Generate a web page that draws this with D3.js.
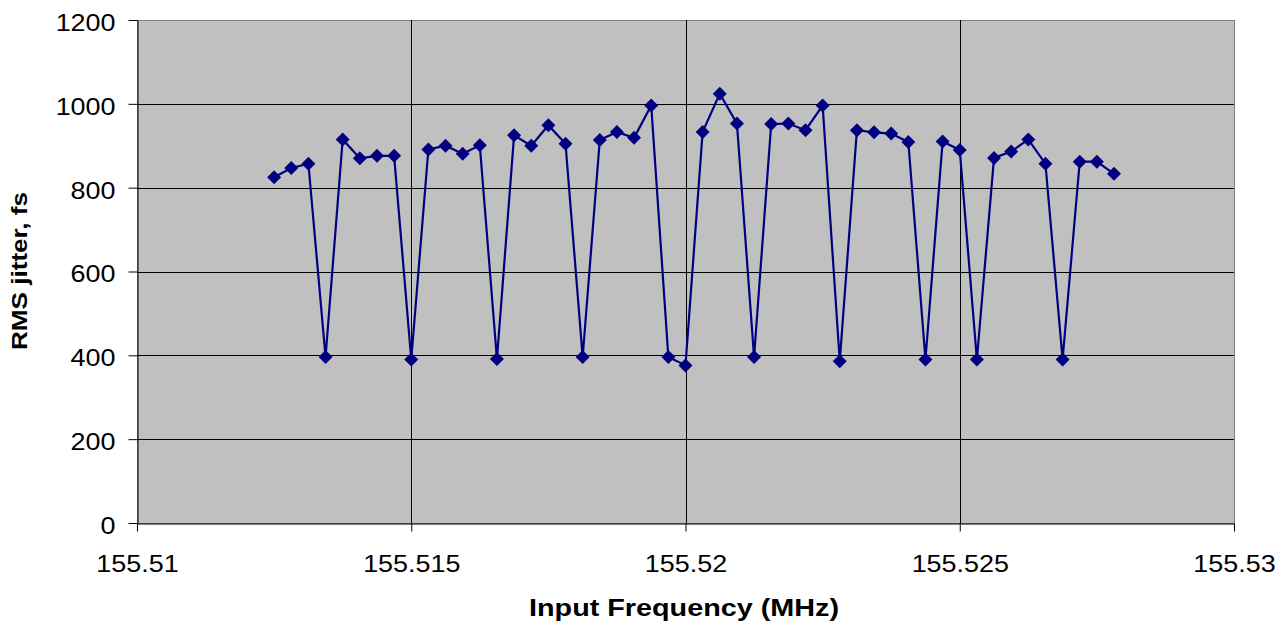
<!DOCTYPE html>
<html><head><meta charset="utf-8">
<script src="https://cdn.jsdelivr.net/npm/d3@7"></script>
<style>body{margin:0;background:#fff}svg{display:block}text{font-family:Arial,"Liberation Sans",sans-serif}</style>
</head><body><svg id="c" width="1281" height="622"></svg>
<script>
const freqs = [155.5125,155.5128125,155.513125,155.5134375,155.51375,155.5140625,155.514375,155.5146875,155.515,155.5153125,
155.515625,155.5159375,155.51625,155.5165625,155.516875,155.5171875,155.5175,155.5178125,155.518125,155.5184375,
155.51875,155.5190625,155.519375,155.5196875,155.52,155.5203125,155.520625,155.5209375,155.52125,155.5215625,
155.521875,155.5221875,155.5225,155.5228125,155.523125,155.5234375,155.52375,155.5240625,155.524375,155.5246875,
155.525,155.5253125,155.525625,155.5259375,155.52625,155.5265625,155.526875,155.5271875,155.5275,155.5278125];
const jitter = [825,847,857,396,915,870,876,876,390,891,
900,881,901,391,925,900,949,905,396,914,
933,919,996,396,376,933,1024,953,396,952,
953,937,996,386,937,932,929,909,390,910,
890,390,871,886,915,857,390,862,862,833];
const xTicks = [155.51,155.515,155.52,155.525,155.53];
const xTickLabels = ["155.51","155.515","155.52","155.525","155.53"];
const yTicks = [0,200,400,600,800,1000,1200];
const yTickLabels = ["0","200","400","600","800","1000","1200"];

const L=137,R=1234,T=20,B=523;
const STRETCH=1.17;
const svg=d3.select("#c");
const x=d3.scaleLinear().domain([155.51,155.53]).range([L,R]);
const y=d3.scaleLinear().domain([0,1200]).range([B,T]);

svg.append("rect").attr("x",L+0.5).attr("y",T+0.5).attr("width",R-L).attr("height",B-T)
  .attr("fill","#c0c0c0").attr("stroke","#808080").attr("stroke-width",1);

const g=svg.append("g");
g.selectAll("line.hg").data(yTicks.slice(1,-1)).join("line").attr("class","hg")
  .attr("x1",L).attr("x2",R).attr("y1",d=>Math.round(y(d))+0.5).attr("y2",d=>Math.round(y(d))+0.5)
  .attr("stroke","#000").attr("stroke-width",1);
g.selectAll("line.vg").data(xTicks.slice(1,-1)).join("line").attr("class","vg")
  .attr("y1",T).attr("y2",B).attr("x1",d=>Math.round(x(d))+0.5).attr("x2",d=>Math.round(x(d))+0.5)
  .attr("stroke","#000").attr("stroke-width",1);

const yAxis=svg.append("g").attr("transform",`translate(${L+0.5},0)`)
  .call(d3.axisLeft(y).tickValues(yTicks).tickFormat((d,i)=>yTickLabels[i]).tickSize(9).tickSizeOuter(0).tickPadding(13));
const xAxis=svg.append("g").attr("transform",`translate(0,${B+0.5})`)
  .call(d3.axisBottom(x).tickValues(xTicks).tickFormat((d,i)=>xTickLabels[i]).tickSize(8).tickSizeOuter(0).tickPadding(24));
[yAxis,xAxis].forEach(a=>{
  a.selectAll("path").attr("stroke","#000");
  a.selectAll("line").attr("stroke","#000");
  a.selectAll("text").attr("font-size",23).attr("fill","#000")
    .attr("font-family","Arial, 'Liberation Sans', sans-serif")
    .each(function(){const w=this.getComputedTextLength();
      d3.select(this).attr("textLength",w*STRETCH).attr("lengthAdjust","spacingAndGlyphs");});
});
yAxis.selectAll("text").attr("dy","0.45em");

const line=d3.line().x((d,i)=>x(freqs[i])).y(d=>y(d));
svg.append("path").datum(jitter).attr("d",line).attr("fill","none").attr("stroke","#000080").attr("stroke-width",2.2);
const squareDiamond={draw(ctx,size){const r=Math.sqrt(size/2);ctx.moveTo(0,-r);ctx.lineTo(r,0);ctx.lineTo(0,r);ctx.lineTo(-r,0);ctx.closePath();}};
const sym=d3.symbol().type(squareDiamond).size(98);
svg.selectAll("path.m").data(jitter).join("path").attr("class","m")
  .attr("transform",(d,i)=>`translate(${x(freqs[i])},${y(d)})`)
  .attr("d",sym).attr("fill","#000080");

svg.append("text").attr("x",684).attr("y",616).attr("text-anchor","middle")
  .attr("font-size",23).attr("font-weight","bold").attr("textLength",310).attr("lengthAdjust","spacingAndGlyphs")
  .text("Input Frequency (MHz)");
svg.append("text").attr("transform",`translate(27,271) rotate(-90)`).attr("text-anchor","middle")
  .attr("font-size",22).attr("font-weight","bold").attr("textLength",158).attr("lengthAdjust","spacingAndGlyphs")
  .text("RMS jitter, fs");
</script></body></html>
